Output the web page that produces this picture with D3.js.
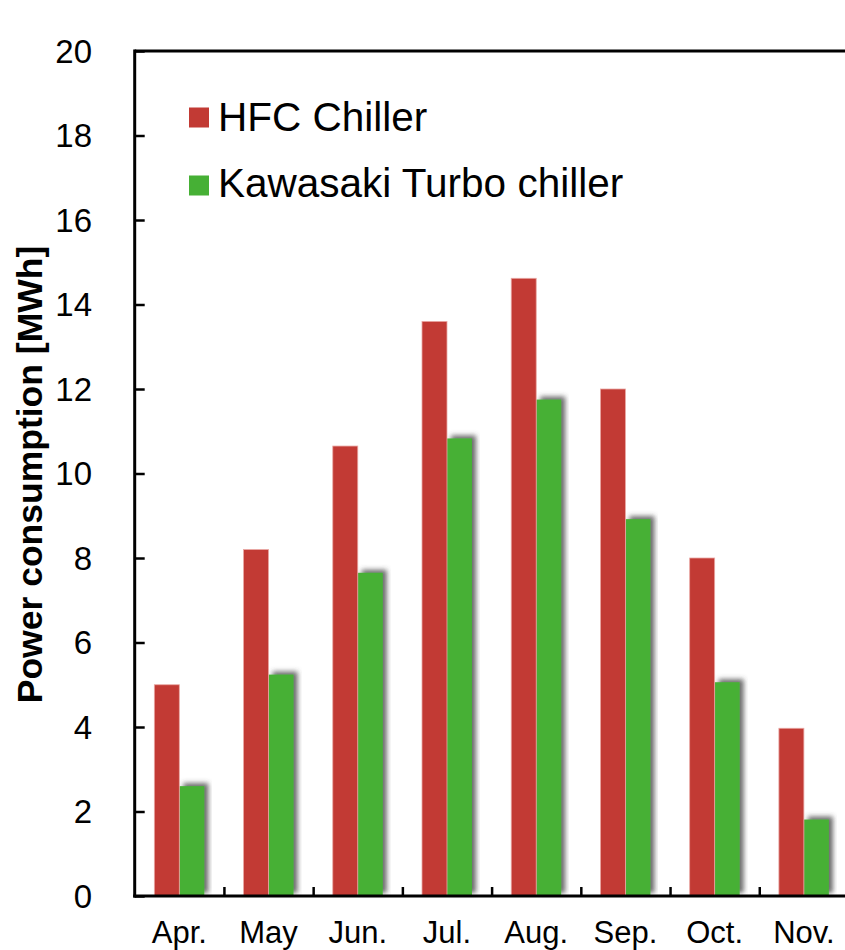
<!DOCTYPE html>
<html>
<head>
<meta charset="utf-8">
<script src="https://cdn.jsdelivr.net/npm/d3@7"></script>
<style>
  html, body { margin: 0; padding: 0; background: #fff; }
  svg { display: block; font-family: "Liberation Sans", Arial, sans-serif; }
</style>
</head>
<body>
<svg id="chart" width="845" height="950"></svg>
<script>
const months = ["Apr.", "May", "Jun.", "Jul.", "Aug.", "Sep.", "Oct.", "Nov."];
const hfcChiller = [5.0, 8.2, 10.65, 13.6, 14.62, 12.0, 8.0, 3.97];
const kawasakiTurbo = [2.6, 5.24, 7.65, 10.83, 11.75, 8.92, 5.06, 1.81];
const seriesNames = ["HFC Chiller", "Kawasaki Turbo chiller"];
const yTicks = [0, 2, 4, 6, 8, 10, 12, 14, 16, 18, 20];

(function () {
const colors = ["#C23A34", "#46B035"];

const svg = d3.select("#chart");
const pL = 134.7, pR = 848.5, pT = 51, pB = 896;

const x = d3.scaleBand().domain(months).range([pL, pR]).padding(0);
const y = d3.scaleLinear().domain([0, 20]).range([pB, pT]);
const bw = x.bandwidth();
const barW = bw * 0.28;

// drop shadow for green bars
const defs = svg.append("defs");
const f = defs.append("filter").attr("id", "shadow")
  .attr("x", "-30%").attr("y", "-30%").attr("width", "160%").attr("height", "160%");
f.append("feDropShadow").attr("dx", 4).attr("dy", -3).attr("stdDeviation", 2.5)
  .attr("flood-color", "#444").attr("flood-opacity", 0.8);

const data = months.map((m, i) => ({ m, v: [hfcChiller[i], kawasakiTurbo[i]] }));

const g = svg.append("g");
g.selectAll("rect.k").data(data).enter().append("rect")
  .attr("class", "k")
  .attr("x", d => x(d.m) + bw / 2)
  .attr("width", barW)
  .attr("y", d => y(d.v[1]))
  .attr("height", d => y(0) - y(d.v[1]))
  .attr("fill", colors[1])
  .attr("filter", "url(#shadow)");

g.selectAll("rect.h").data(data).enter().append("rect")
  .attr("class", "h")
  .attr("x", d => x(d.m) + bw / 2 - barW)
  .attr("width", barW)
  .attr("y", d => y(d.v[0]))
  .attr("height", d => y(0) - y(d.v[0]))
  .attr("fill", colors[0])
  .attr("stroke", "#E9A7A3").attr("stroke-width", 0.8);

// top frame
svg.append("line").attr("x1", pL).attr("x2", pR).attr("y1", pT).attr("y2", pT)
  .attr("stroke", "#000").attr("stroke-width", 3);

// y axis
const yAxis = d3.axisRight(y).tickValues(yTicks).tickSize(10).tickFormat("");
const ya = svg.append("g").attr("transform", `translate(${pL},0)`).call(yAxis);
ya.select(".domain").attr("stroke", "#000").attr("stroke-width", 3).attr("d", `M0,${pB + 1.5}V${pT - 1.5}`);
ya.selectAll(".tick line").attr("stroke", "#000").attr("stroke-width", 2.5);

svg.append("g").selectAll("text").data(yTicks).enter().append("text")
  .attr("x", 92).attr("y", d => y(d)).attr("dy", "0.36em")
  .attr("text-anchor", "end").attr("font-size", 33).attr("fill", "#000")
  .text(d => d);

// x axis with ticks at category boundaries
const xBound = d3.scaleLinear().domain([0, months.length]).range([pL, pR]);
const xAxis = d3.axisTop(xBound).tickValues(d3.range(1, months.length)).tickSize(9).tickFormat("");
const xa = svg.append("g").attr("transform", `translate(0,${pB})`).call(xAxis);
xa.select(".domain").attr("stroke", "#000").attr("stroke-width", 3).attr("d", `M${pL - 1.5},0H${pR}`);
xa.selectAll(".tick line").attr("stroke", "#000").attr("stroke-width", 2.5);

svg.append("g").selectAll("text").data(months).enter().append("text")
  .attr("x", d => x(d) + bw / 2).attr("y", 943)
  .attr("text-anchor", "middle").attr("font-size", 31).attr("fill", "#000")
  .text(d => d);

// y label
svg.append("text")
  .attr("transform", "translate(42,474.5) rotate(-90)")
  .attr("text-anchor", "middle")
  .attr("font-size", 35.5).attr("font-weight", "bold").attr("fill", "#000")
  .text("Power consumption [MWh]");

// legend
const leg = svg.append("g");
seriesNames.forEach((s, i) => {
  leg.append("rect").attr("x", 189).attr("y", 107.5 + i * 68).attr("width", 20).attr("height", 20)
    .attr("fill", colors[i]);
  leg.append("text").attr("x", 218).attr("y", 131 + i * 66)
    .attr("font-size", 40.5).attr("fill", "#000").text(s);
});
})();
</script>
</body>
</html>
